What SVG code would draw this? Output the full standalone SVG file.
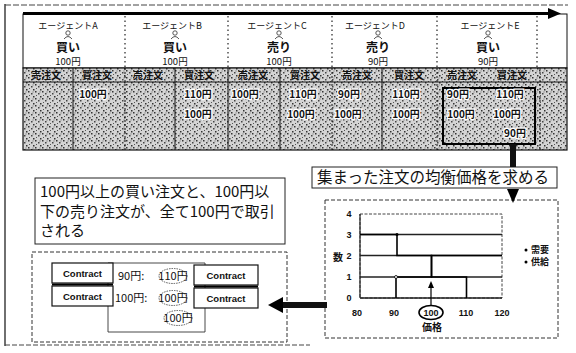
<svg xmlns="http://www.w3.org/2000/svg" width="576" height="353" viewBox="0 0 576 353">
<style>
.jp{font-family:"Noto Sans CJK JP","Noto Sans",sans-serif;fill:#111}
.hd{font-size:9px;text-anchor:middle}
.act{font-size:12px;text-anchor:middle;font-weight:bold}
.pr{font-size:9.5px;text-anchor:middle}
.th{font-size:10px;text-anchor:middle;font-weight:bold}
.val{font-size:10px;text-anchor:middle;font-weight:bold;stroke:#fff;stroke-width:2.5px;paint-order:stroke}
.sep{stroke:#222;stroke-width:1.2;stroke-dasharray:1.5 3}
.cell{stroke:#111;stroke-width:1}
.box{fill:#fff;stroke:#111;stroke-width:1.2}
.dbox{fill:#fff;stroke:#333;stroke-width:1;stroke-dasharray:4 2}
.ct{font-family:"Liberation Sans",Arial,sans-serif;font-size:9.5px;font-weight:bold;text-anchor:middle;fill:#111}
.ax{font-family:"Liberation Sans",Arial,sans-serif;font-size:9px;font-weight:bold;text-anchor:middle;fill:#111}
.circ{fill:#fff;stroke:#333;stroke-width:0.8;stroke-dasharray:1.5 1}
.grid{stroke:#222;stroke-width:1.4}
.step{stroke:#000;stroke-width:1.6;fill:none}
</style>
<defs>
<pattern id="noise" width="7" height="7" patternUnits="userSpaceOnUse">
<rect width="7" height="7" fill="#d4d4d4"/>
<rect x="0" y="0" width="1.5" height="1.5" fill="#333"/>
<rect x="3" y="2" width="1.5" height="1.5" fill="#444"/>
<rect x="5" y="5" width="1.5" height="1.5" fill="#333"/>
<rect x="1" y="4" width="1" height="1" fill="#555"/>
<rect x="4.5" y="0.5" width="1" height="1" fill="#666"/>
</pattern>
<g id="person"><circle cx="0" cy="-3" r="2.2" fill="none" stroke="#444" stroke-width="0.9"/><path d="M-4,3 Q0,-2 4,3" fill="none" stroke="#444" stroke-width="0.9"/></g>
</defs>
<rect width="576" height="353" fill="#fff"/>

<!-- outer frame -->
<g id="frame">
<line x1="5" y1="4" x2="5" y2="346" stroke="#222" stroke-width="1.3"/>
<line x1="5" y1="5" x2="568" y2="5" stroke="#444" stroke-width="1" stroke-dasharray="6 2"/>
<line x1="5" y1="345" x2="310" y2="345" stroke="#444" stroke-width="1" stroke-dasharray="5 2"/>
</g>

<!-- header with agents -->
<g id="agents">
<rect x="23" y="14" width="544" height="54" fill="#fff" stroke="#111" stroke-width="1"/>
<line class="sep" x1="125" y1="16" x2="125" y2="68"/>
<line class="sep" x1="228" y1="16" x2="228" y2="68"/>
<line class="sep" x1="332" y1="16" x2="332" y2="68"/>
<line class="sep" x1="437" y1="16" x2="437" y2="68"/>
<line class="sep" x1="537" y1="16" x2="537" y2="68"/>
</g>
<g id="agentA"><text class="jp hd" x="68" y="29">エージェントA</text><use href="#person" x="68" y="36"/><text class="jp act" x="68" y="52">買い</text><text class="jp pr" x="68" y="65">100円</text></g>
<g id="agentB"><text class="jp hd" x="172" y="29">エージェントB</text><use href="#person" x="175" y="36"/><text class="jp act" x="175" y="52">買い</text><text class="jp pr" x="175" y="65">100円</text></g>
<g id="agentC"><text class="jp hd" x="277" y="29">エージェントC</text><use href="#person" x="279" y="36"/><text class="jp act" x="279" y="52">売り</text><text class="jp pr" x="279" y="65">100円</text></g>
<g id="agentD"><text class="jp hd" x="375" y="29">エージェントD</text><use href="#person" x="378" y="36"/><text class="jp act" x="378" y="52">売り</text><text class="jp pr" x="378" y="65">90円</text></g>
<g id="agentE"><text class="jp hd" x="490" y="29">エージェントE</text><use href="#person" x="488" y="36"/><text class="jp act" x="488" y="52">買い</text><text class="jp pr" x="488" y="65">90円</text></g>

<!-- order table -->
<g id="table">
<rect x="23" y="68" width="544" height="82" fill="url(#noise)" stroke="#111" stroke-width="1.2"/>
<line class="cell" x1="23" y1="82" x2="567" y2="82"/>
<line class="cell" x1="73" y1="68" x2="73" y2="150"/>
<line class="cell" x1="125" y1="68" x2="125" y2="150" stroke-dasharray="2 2"/>
<line class="cell" x1="175" y1="68" x2="175" y2="150"/>
<line class="cell" x1="228" y1="68" x2="228" y2="150"/>
<line class="cell" x1="280" y1="68" x2="280" y2="150"/>
<line class="cell" x1="332" y1="68" x2="332" y2="150" stroke-dasharray="2 2"/>
<line class="cell" x1="382" y1="68" x2="382" y2="150"/>
<line class="cell" x1="437" y1="68" x2="437" y2="150" stroke-dasharray="2 2"/>
<line class="cell" x1="540" y1="68" x2="540" y2="150" stroke-dasharray="2 2"/>
<text class="jp th" x="46" y="79">売注文</text>
<text class="jp th" x="97" y="79">買注文</text>
<text class="jp th" x="148" y="79">売注文</text>
<text class="jp th" x="199" y="79">買注文</text>
<text class="jp th" x="253" y="79">売注文</text>
<text class="jp th" x="305" y="79">買注文</text>
<text class="jp th" x="357" y="79">売注文</text>
<text class="jp th" x="409" y="79">買注文</text>
<text class="jp th" x="462" y="79">売注文</text>
<text class="jp th" x="512" y="79">買注文</text>
<text class="jp val" x="93" y="98">100円</text>
<text class="jp val" x="198" y="98">110円</text>
<text class="jp val" x="198" y="118">100円</text>
<text class="jp val" x="245" y="98">100円</text>
<text class="jp val" x="303" y="98">110円</text>
<text class="jp val" x="301" y="118">100円</text>
<text class="jp val" x="349" y="98">90円</text>
<text class="jp val" x="348" y="118">100円</text>
<text class="jp val" x="406" y="98">110円</text>
<text class="jp val" x="406" y="118">100円</text>
</g>
<g id="boxE">
<rect x="443" y="88" width="92" height="56" fill="none" stroke="#000" stroke-width="2"/>
<text class="jp val" x="458" y="98">90円</text>
<text class="jp val" x="461" y="118">100円</text>
<text class="jp val" x="510" y="98">110円</text>
<text class="jp val" x="507" y="118">100円</text>
<text class="jp val" x="515" y="137">90円</text>
</g>

<!-- explanation boxes -->
<g id="equilibrium">
<rect x="312" y="167" width="245" height="21" fill="#fff" stroke="#222" stroke-width="1"/>
<text class="jp" x="317" y="183" font-size="15.5">集まった注文の均衡価格を求める</text>
</g>
<g id="explain">
<rect x="35" y="178" width="250" height="66" fill="#fff" stroke="#222" stroke-width="1"/>
<text class="jp" x="40" y="197" font-size="15">100円以上の買い注文と、100円以</text>
<text class="jp" x="40" y="217" font-size="15">下の売り注文が、全て100円で取引</text>
<text class="jp" x="40" y="236" font-size="15">される</text>
</g>

<!-- contract panel -->
<g id="contracts">
<rect class="dbox" x="32" y="252" width="255" height="90"/>
<path d="M108,263 H205 V332 H108 Z" fill="#fff" stroke="#333" stroke-width="0.9"/>
<rect class="box" x="52" y="263" width="61" height="20"/>
<rect class="box" x="52" y="286" width="61" height="20"/>
<line x1="52" y1="284.5" x2="113" y2="284.5" stroke="#000" stroke-width="2"/>
<rect class="box" x="194" y="265" width="64" height="20"/>
<rect class="box" x="194" y="288" width="64" height="20"/>
<line x1="194" y1="286.5" x2="258" y2="286.5" stroke="#000" stroke-width="2"/>
<text class="ct" x="82.5" y="277">Contract</text>
<text class="ct" x="82.5" y="300">Contract</text>
<text class="ct" x="226" y="279">Contract</text>
<text class="ct" x="226" y="302">Contract</text>
<text class="jp" x="118" y="280" font-size="11">90円:</text>
<text class="jp" x="115" y="302" font-size="11">100円:</text>
<ellipse class="circ" cx="173" cy="276" rx="14" ry="7.5"/>
<ellipse class="circ" cx="173" cy="298" rx="14" ry="7.5"/>
<ellipse class="circ" cx="178" cy="318" rx="14" ry="7.5"/>
<text class="jp" x="173" y="280" font-size="11" text-anchor="middle">110円</text>
<text class="jp" x="173" y="302" font-size="11" text-anchor="middle">100円</text>
<text class="jp" x="178" y="322" font-size="11" text-anchor="middle">100円</text>
</g>

<!-- chart -->
<g id="chart">
<rect class="dbox" x="325" y="200" width="233" height="138"/>
<rect x="360" y="214" width="142" height="84" fill="#fff" stroke="#444" stroke-width="1" stroke-dasharray="3 1.5"/>
<line class="grid" x1="360" y1="234.5" x2="502" y2="234.5"/>
<line class="grid" x1="360" y1="255.5" x2="502" y2="255.5"/>
<line class="grid" x1="360" y1="277" x2="502" y2="277"/>
<line class="grid" x1="360" y1="298" x2="502" y2="298"/>
<line x1="360" y1="214" x2="360" y2="298" stroke="#222" stroke-width="1.2"/>
<path class="step" d="M360,234.5 H397 V255.5 H431.5 V277 H466.5 V298"/>
<path class="step" d="M396,298 V277 H431.5 V255.5 H502"/>
<circle cx="397" cy="234.5" r="1.5" fill="#000"/>
<circle cx="396" cy="277" r="1.5" fill="#fff" stroke="#000" stroke-width="0.8"/>
<text class="ax" x="349" y="217">4</text>
<text class="ax" x="349" y="238">3</text>
<text class="ax" x="349" y="259">2</text>
<text class="ax" x="349" y="280">1</text>
<text class="ax" x="349" y="301">0</text>
<text class="jp" x="338" y="261" font-size="10" font-weight="bold" text-anchor="middle">数</text>
<text class="ax" x="357" y="316">80</text>
<text class="ax" x="394" y="316">90</text>
<text class="ax" x="431" y="316">100</text>
<text class="ax" x="466" y="316">110</text>
<text class="ax" x="502" y="316">120</text>
<ellipse cx="431" cy="312.5" rx="12" ry="7" fill="none" stroke="#000" stroke-width="1.6"/>
<text class="jp" x="432" y="331" font-size="10" font-weight="bold" text-anchor="middle">価格</text>
<circle cx="526" cy="250" r="1.5" fill="#000"/>
<text class="jp" x="531" y="253" font-size="9" font-weight="bold">需要</text>
<circle cx="526" cy="262" r="1.5" fill="#000"/>
<text class="jp" x="531" y="265" font-size="9" font-weight="bold">供給</text>
</g>

<!-- connectors -->
<g id="connectors">
<line x1="23" y1="13.5" x2="550" y2="13.5" stroke="#000" stroke-width="3"/>
<polygon points="548,8 561,13.5 548,19" fill="#000"/>
<rect x="510" y="144" width="6" height="23" fill="#111"/>
<polygon points="507,189 519,189 513,203" fill="#000"/>
<rect x="280" y="302" width="47" height="6" fill="#111"/>
<polygon points="283,297 268,305 283,313" fill="#000"/>
<line x1="431" y1="305" x2="431" y2="287" stroke="#000" stroke-width="1.2"/>
<polygon points="428,288 431,281 434,288" fill="#000"/>
</g>
</svg>
